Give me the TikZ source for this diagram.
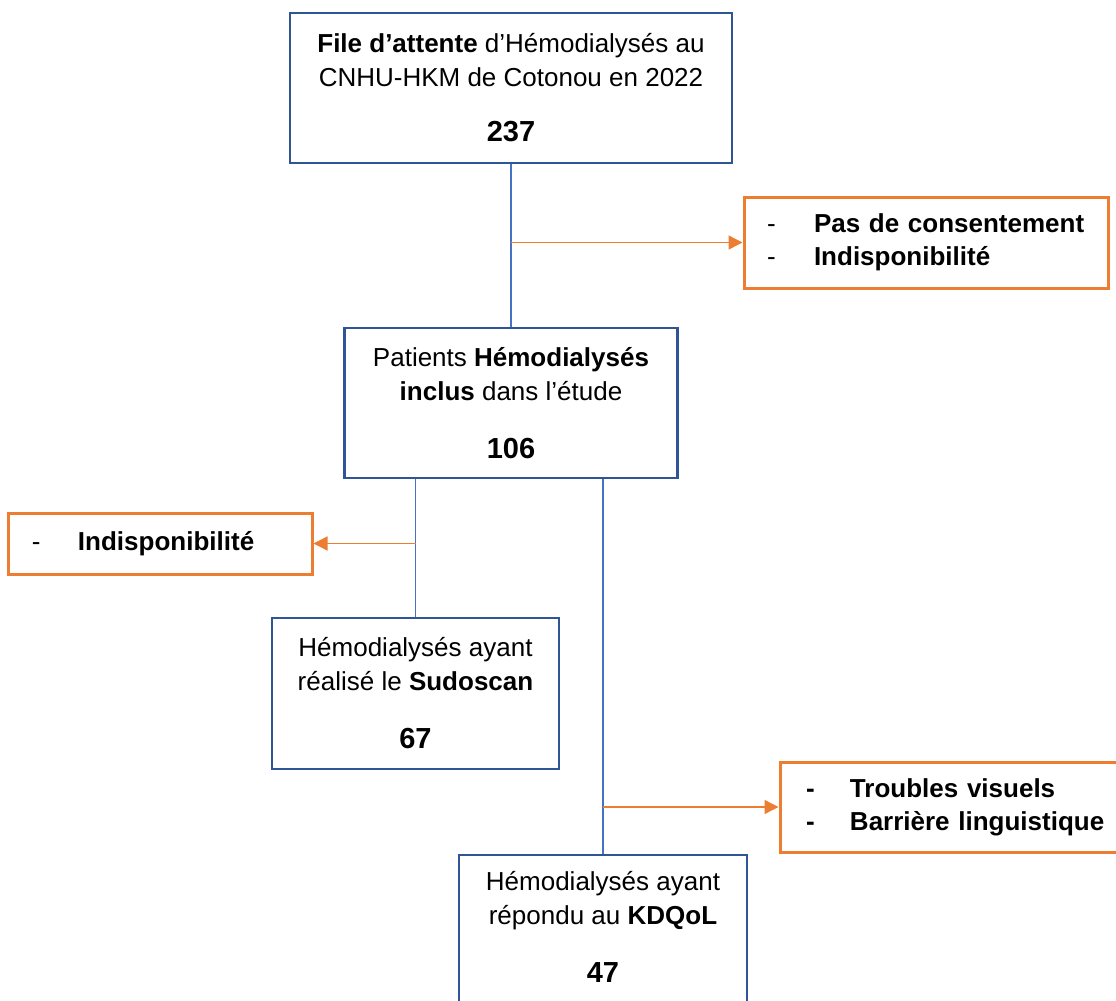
\documentclass[tikz,border=0pt]{standalone}
\usepackage{fontspec}
\setmainfont{Liberation Sans}
\usetikzlibrary{arrows.meta}

\definecolor{boxblue}{HTML}{2F5597}
\definecolor{lineblue}{HTML}{4472C4}
\definecolor{exclorange}{HTML}{ED7D31}

\newcommand{\exclline}[3][23.5pt]{\makebox[#1][l]{#2}\mbox{\textbf{#3}}}
\newcommand{\stepcount}[1]{{\fontsize{14.5}{17}\selectfont\bfseries #1}}

\tikzset{
  stepbox/.style={draw=boxblue,line width=1.3pt,fill=white,align=center,inner sep=0pt,font=\fontsize{13}{17}\selectfont},
  exclbox/.style={draw=exclorange,line width=1.5pt,fill=white,align=left,inner xsep=11.5pt,inner ysep=0pt,font=\fontsize{13}{16.5}\selectfont},
  flow/.style={draw=lineblue,line width=0.6pt},
  excl/.style={draw=exclorange,line width=0.7pt,-{Triangle[length=7pt,width=7pt]}}
}

\begin{document}
\begin{tikzpicture}[x=0.5pt,y=-0.5pt]
\clip (0,0) rectangle (1116,1001);
\node[stepbox,minimum width=221pt,minimum height=75pt] (file) at (511,88) {\textbf{File d’attente} d’Hémodialysés au\\CNHU-HKM de Cotonou en 2022\\[10.5pt]\stepcount{237}};
\node[stepbox,minimum width=166.5pt,minimum height=75pt] (incl) at (511,403) {Patients \textbf{Hémodialysés}\\\textbf{inclus} dans l’étude\\[12pt]\stepcount{106}};
\node[stepbox,minimum width=143.5pt,minimum height=75.5pt] (sudo) at (415.5,693.5) {Hémodialysés ayant\\réalisé le \textbf{Sudoscan}\\[12pt]\stepcount{67}};
\node[stepbox,minimum width=144pt,minimum height=80pt,text depth=8pt] (kdq) at (603,935) {Hémodialysés ayant\\répondu au \textbf{KDQoL}\\[12pt]\stepcount{47}};

\node[exclbox,text width=159pt,minimum height=45.5pt] (ex1) at (926,242.5) {\exclline{-}{Pas de consentement}\\\exclline{-}{Indisponibilité}};
\node[exclbox,inner xsep=12pt,text width=128pt,minimum height=30.5pt] (ex2) at (160,543.5) {\exclline[23pt]{-}{Indisponibilité}};
\node[exclbox,inner xsep=13pt,text width=143pt,minimum height=45pt] (ex3) at (949,807) {\exclline[22pt]{\textbf{-}}{Troubles visuels}\\\exclline[22pt]{\textbf{-}}{Barrière linguistique}};

\draw[flow] (file.south) -- (incl.north);
\draw[flow] (incl.south -| sudo.north) -- (sudo.north);
\draw[flow] (incl.south -| kdq.north) -- (kdq.north);
\draw[excl] (file.south |- ex1.west) -- (ex1.west);
\draw[excl] (sudo.north |- ex2.east) -- (ex2.east);
\draw[excl] (kdq.north |- ex3.west) -- (ex3.west);
\end{tikzpicture}
\end{document}
